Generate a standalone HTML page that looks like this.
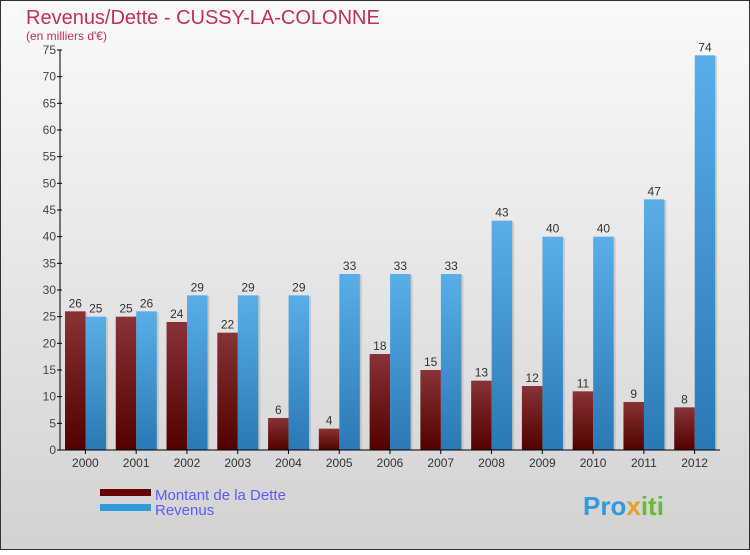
<!DOCTYPE html>
<html><head><meta charset="utf-8"><style>
body{margin:0;width:750px;height:550px;overflow:hidden;font-family:"Liberation Sans",sans-serif}
</style></head><body>
<svg width="750" height="550" xmlns="http://www.w3.org/2000/svg">
<defs>
<linearGradient id="bg" x1="0" y1="0" x2="0" y2="1"><stop offset="0" stop-color="#fafafa"/><stop offset="1" stop-color="#d2d2d2"/></linearGradient>
<linearGradient id="gd" x1="0" y1="0" x2="0" y2="1"><stop offset="0" stop-color="#883336"/><stop offset="1" stop-color="#520000"/></linearGradient>
<linearGradient id="gr" x1="0" y1="0" x2="0" y2="1"><stop offset="0" stop-color="#5aaee8"/><stop offset="1" stop-color="#2a78b4"/></linearGradient>
</defs>
<rect x="0.5" y="0.5" width="749" height="549" fill="url(#bg)" stroke="#333"/>
<text x="26" y="24" font-size="20" fill="#c0305a">Revenus/Dette - CUSSY-LA-COLONNE</text>
<text x="26" y="40" font-size="12" fill="#c0305a">(en milliers d'€)</text>
<g id="plot"></g>
<rect x="100" y="489" width="51" height="7" fill="#660000"/>
<text x="155" y="500" font-size="15" fill="#5a5aff">Montant de la Dette</text>
<rect x="100" y="504" width="51" height="7" fill="#3399dd"/>
<text x="155" y="515" font-size="15" fill="#5a5aff">Revenus</text>
<text x="583" y="515" font-size="26" font-weight="bold" fill="#3399dd">Pro<tspan fill="#e8a020">x</tspan><tspan fill="#66bb33">iti</tspan></text>
</svg>
<script>
const years=["2000","2001","2002","2003","2004","2005","2006","2007","2008","2009","2010","2011","2012"];
const dette=[26,25,24,22,6,4,18,15,13,12,11,9,8];
const revenus=[25,26,29,29,29,33,33,33,43,40,40,47,74];
const yTicks=[0,5,10,15,20,25,30,35,40,45,50,55,60,65,70,75];
const NS="http://www.w3.org/2000/svg";
const g=document.getElementById('plot');
const x0=60,x1=720,yb=450,yt=50,ymax=75;
const y=v=>yb-(v/ymax)*(yb-yt);
const step=(x1-x0)/years.length;
function mk(t,a,txt){const e=document.createElementNS(NS,t);for(const k in a)e.setAttribute(k,a[k]);if(txt!==undefined)e.textContent=txt;g.appendChild(e);return e;}
yTicks.forEach(t=>{
 const l=mk('line',{x1:x0-3,x2:x0+2,y1:y(t),y2:y(t),stroke:'#000'});
 
 const tx=mk('text',{x:x0-4,y:y(t)+4,'font-size':12,fill:'#444','text-anchor':'end'},t);
 
});
years.forEach((yr,i)=>{
 const gx=x0+i*step;
 const bw=20.5;
 [[dette[i],'url(#gd)',gx+5,'bar-dette'],[revenus[i],'url(#gr)',gx+5+bw,'bar-revenus']].forEach(([v,f,bx,n])=>{
  const s=mk('rect',{x:bx+2,y:y(v)+1,width:bw,height:yb-y(v)-1,fill:'#999',opacity:0.35});
  
  const r=mk('rect',{x:bx,y:y(v),width:bw,height:yb-y(v),fill:f});
  
  const t=mk('text',{x:bx+bw/2,y:y(v)-4,'font-size':12,fill:'#333','text-anchor':'middle'},v);
  
 });
 const tl=mk('line',{x1:gx+step/2,x2:gx+step/2,y1:yb,y2:yb+4,stroke:'#000'});
 
 const xl=mk('text',{x:gx+step/2,y:yb+17,'font-size':12,fill:'#333','text-anchor':'middle'},yr);
 
});
const ya=mk('line',{x1:x0,x2:x0,y1:yt,y2:yb,stroke:'#000'});

const xa=mk('line',{x1:x0,x2:x1,y1:yb,y2:yb,stroke:'#000'});

</script>
</body></html>
